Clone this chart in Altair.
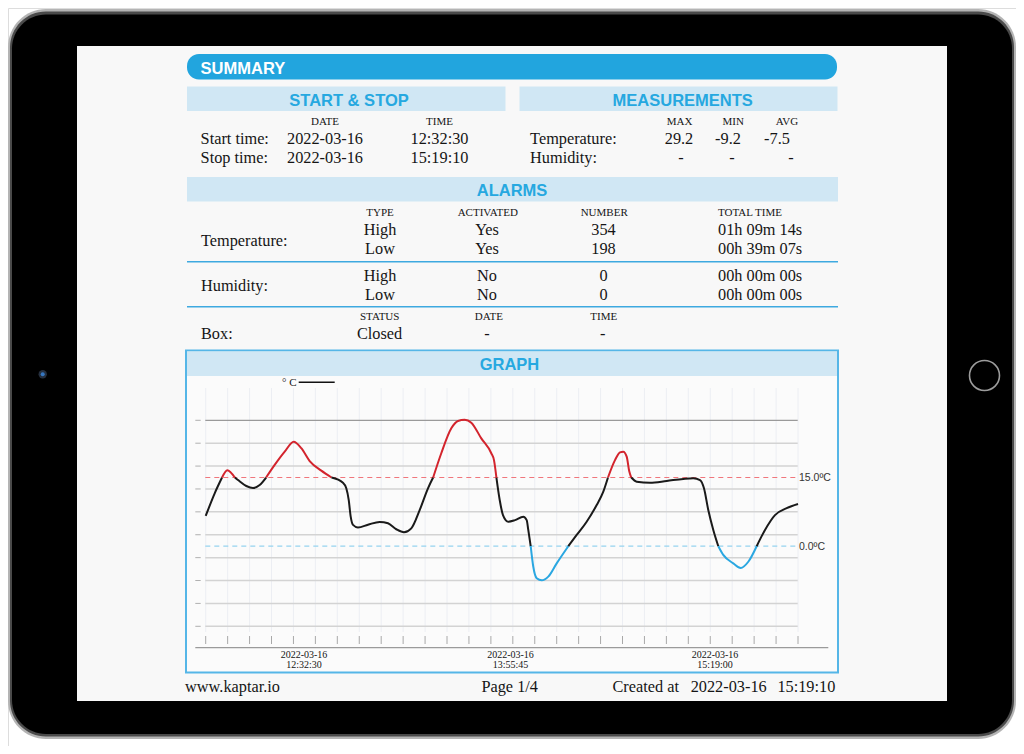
import altair as alt
import pandas as pd

# ---------------- report values ----------------
start_stop_cols = ["DATE", "TIME"]
start_stop_rows = ["Start time:", "Stop time:"]
start_stop_dates = ["2022-03-16", "2022-03-16"]
start_stop_times = ["12:32:30", "15:19:10"]

meas_cols = ["MAX", "MIN", "AVG"]
meas_rows = ["Temperature:", "Humidity:"]
temp_meas = ["29.2", "-9.2", "-7.5"]
hum_meas = ["-", "-", "-"]

alarm_cols = ["TYPE", "ACTIVATED", "NUMBER", "TOTAL TIME"]
alarm_groups = ["Temperature:", "Humidity:"]
alarm_types = ["High", "Low"]
temp_alarm_activated = ["Yes", "Yes"]
temp_alarm_number = ["354", "198"]
temp_alarm_time = ["01h 09m 14s", "00h 39m 07s"]
hum_alarm_activated = ["No", "No"]
hum_alarm_number = ["0", "0"]
hum_alarm_time = ["00h 00m 00s", "00h 00m 00s"]

box_cols = ["STATUS", "DATE", "TIME"]
box_label = "Box:"
box_values = ["Closed", "-", "-"]

footer_site = "www.kaptar.io"
footer_page = "Page 1/4"
footer_created = ["Created at", "2022-03-16", "15:19:10"]

# ---------------- graph values ----------------
# minutes elapsed since 2022-03-16 12:32:30 (log runs 10000 s)
elapsed_min = [0.0, 2.53, 4.6, 6.08, 8.2, 9.09, 11.42, 13.31, 15.19, 17.0,
               19.41, 22.23, 24.76, 26.9, 29.26, 32.53, 35.4, 38.63, 39.56, 40.24,
               40.8, 41.45, 42.85, 45.67, 48.96, 51.29, 53.63, 55.8, 57.85, 60.21,
               62.55, 64.0, 66.29, 69.11, 70.99, 72.88, 74.73, 77.55, 80.36, 81.12,
               81.8, 82.73, 83.65, 85.15, 87.03, 89.37, 90.32, 90.77, 91.45, 92.18,
               93.14, 94.54, 96.4, 98.76, 102.03, 104.39, 107.2, 110.02, 111.88, 113.2,
               115.17, 116.58, 117.5, 118.46, 119.2, 119.75, 121.28, 125.02, 129.72, 134.39,
               137.2, 139.09, 140.21, 141.42, 142.83, 144.24, 145.64, 148.46, 150.54, 152.68,
               155.04, 157.38, 160.19, 163.48, 166.67]
temp_c = [6.6, 11.55, 15.0, 16.6, 15.0, 14.45, 13.15, 12.7, 13.37, 15.0,
          17.75, 20.65, 22.8, 21.4, 18.6, 16.5, 15.0, 13.85, 12.65, 10.1,
          6.45, 4.65, 4.1, 4.7, 5.3, 5.0, 3.7, 3.05, 3.9, 7.9,
          12.65, 15.0, 20.3, 25.75, 27.35, 27.6, 26.98, 23.55, 20.3, 18.8,
          15.0, 10.1, 6.8, 5.35, 5.7, 6.45, 5.7, 3.55, 0.0, -4.5,
          -7.0, -7.45, -6.65, -3.75, 0.0, 2.45, 5.35, 9.0, 11.9, 15.0,
          18.8, 20.5, 20.65, 19.55, 16.3, 15.0, 14.1, 13.85, 14.25, 14.7,
          14.85, 14.45, 12.65, 7.9, 3.55, 0.0, -1.9, -3.75, -4.75, -3.4,
          0.0, 3.55, 6.8, 8.3, 9.2]
high_limit = 15.0
low_limit = 0.0
threshold_values = [high_limit, low_limit]
threshold_labels = ["15.0ºC", "0.0ºC"]
grid_temps = [27.5, 22.5, 17.5, 12.5, 7.5, 2.5, -2.5, -7.5, -12.5, -17.5]
x_label_dates = ["2022-03-16", "2022-03-16", "2022-03-16"]
x_label_times = ["12:32:30", "13:55:45", "15:19:00"]
legend_label = "° C"
span_min = 10000 / 60
n_ticks = 28

# ---------------- styles ----------------
SERIF = "Liberation Serif"
SANS = "Liberation Sans"
BLUE = "#22a5de"
HEAD_BLUE = "#26a8e0"
BAND = "#d0e7f4"
INK = "#151515"
OFF = 8  # page margin -> view coordinates


def pos(v):
    return v - OFF


def text_layer(items, font, size, color=INK, weight="normal", align="left", baseline="alphabetic"):
    df = pd.DataFrame(items, columns=["x", "y", "t"])
    df["x"] = df["x"] - OFF
    df["y"] = df["y"] - OFF
    return alt.Chart(df).mark_text(
        font=font, fontSize=size, fontWeight=weight, color=color,
        align=align, baseline=baseline
    ).encode(
        x=alt.X("x:Q", scale=None, axis=None),
        y=alt.Y("y:Q", scale=None, axis=None),
        text="t:N",
    )


def rect_layer(boxes, fill, radius=0, stroke=None, sw=0):
    df = pd.DataFrame(boxes, columns=["x", "x2", "y", "y2"]) - OFF
    kw = dict(fill=fill, cornerRadius=radius)
    if stroke:
        kw.update(stroke=stroke, strokeWidth=sw)
    return alt.Chart(df).mark_rect(**kw).encode(
        x=alt.X("x:Q", scale=None, axis=None), x2="x2:Q",
        y=alt.Y("y:Q", scale=None, axis=None), y2="y2:Q",
    )


def rule_layer(lines, color, width):
    df = pd.DataFrame(lines, columns=["x", "x2", "y", "y2"]) - OFF
    return alt.Chart(df).mark_rule(color=color, strokeWidth=width).encode(
        x=alt.X("x:Q", scale=None, axis=None), x2="x2:Q",
        y=alt.Y("y:Q", scale=None, axis=None), y2="y2:Q",
    )


one = pd.DataFrame({"k": [0]})
layers = []

# ---------------- device frame ----------------
layers.append(rect_layer([(8, 1016, 9, 739)], "#b4b4b4", radius=38))
layers.append(rect_layer([(10, 1014, 11.5, 736.5)], "#4a4a4a", radius=36))
layers.append(rect_layer([(12, 1012, 14.5, 734)], "#000000", radius=34))
layers.append(rect_layer([(77, 947, 46, 701)], "#f8f8f8"))
layers.append(alt.Chart(one).mark_circle(size=70, color="#26303f", opacity=1).encode(
    x=alt.value(pos(42.7)), y=alt.value(pos(374.3))))
layers.append(alt.Chart(one).mark_circle(size=16, color="#3576c0", opacity=1).encode(
    x=alt.value(pos(42.7)), y=alt.value(pos(374.3))))
layers.append(alt.Chart(one).mark_point(shape="circle", size=900, filled=False,
                                        color="#9c9c9c", strokeWidth=1.6, opacity=1).encode(
    x=alt.value(pos(984.5)), y=alt.value(pos(375.5))))

# ---------------- headers ----------------
layers.append(rect_layer([(187, 837, 54, 79.5)], BLUE, radius=12))
layers.append(rect_layer([(187, 505.5, 86.5, 111), (519.5, 837.5, 86.5, 111),
                          (187, 838, 177, 201.5)], BAND))
layers.append(rect_layer([(186, 838, 350.5, 672.5)], "#fbfbfb", stroke="#55b6e7", sw=2))
layers.append(rect_layer([(187, 837, 351.5, 376)], BAND))
layers.append(rule_layer([(187, 838, 261.7, 261.7), (187, 838, 306.7, 306.7)], "#3ea9e0", 1.5))

layers.append(text_layer([(200.6, 73.5, "SUMMARY")], SANS, 16.5, color="white", weight="bold"))
layers.append(text_layer([(349, 105.7, "START & STOP"), (682.7, 105.7, "MEASUREMENTS"),
                          (512, 196, "ALARMS"), (509.5, 370.3, "GRAPH")],
                         SANS, 16.5, color=HEAD_BLUE, weight="bold", align="center"))

# ---------------- start & stop ----------------
ss_col_x = [325, 439.5]
row_base = [144.3, 163.3]
small = [(ss_col_x[i], 125, c) for i, c in enumerate(start_stop_cols)]
small += [(x, 125, c) for x, c in zip([679.6, 733.2, 787], meas_cols)]
small += [(x, 215.7, c) for x, c in zip([380, 487.8, 604.2], alarm_cols[:3])]
small += [(x, 320, c) for x, c in zip([379.7, 488.9, 603.8], box_cols)]
layers.append(text_layer(small, SERIF, 11, align="center"))
layers.append(text_layer([(718, 215.7, alarm_cols[3])], SERIF, 11))

left_items = [(200.6, row_base[i], r) for i, r in enumerate(start_stop_rows)]
left_items += [(530.1, row_base[i], r) for i, r in enumerate(meas_rows)]
left_items += [(201, 246, alarm_groups[0]), (201, 290.5, alarm_groups[1]), (201, 339, box_label)]
left_items += [(718, 235, temp_alarm_time[0]), (718, 254, temp_alarm_time[1]),
               (718, 280.7, hum_alarm_time[0]), (718, 299.7, hum_alarm_time[1])]
layers.append(text_layer(left_items, SERIF, 16.3))

center_items = []
for i in range(2):
    center_items.append((ss_col_x[0], row_base[i], start_stop_dates[i]))
    center_items.append((ss_col_x[1], row_base[i], start_stop_times[i]))
for x, v in zip([679, 728, 777], temp_meas):
    center_items.append((x, row_base[0], v))
for x, v in zip([681, 732, 791], hum_meas):
    center_items.append((x, row_base[1], v))
alarm_x = [380, 487, 603.5]
for yb, (t, a, n) in zip([235, 254], zip(alarm_types, temp_alarm_activated, temp_alarm_number)):
    center_items += [(alarm_x[0], yb, t), (alarm_x[1], yb, a), (alarm_x[2], yb, n)]
for yb, (t, a, n) in zip([280.7, 299.7], zip(alarm_types, hum_alarm_activated, hum_alarm_number)):
    center_items += [(alarm_x[0], yb, t), (alarm_x[1], yb, a), (alarm_x[2], yb, n)]
for x, v in zip([379.5, 487, 602.7], box_values):
    center_items.append((x, 339, v))
layers.append(text_layer(center_items, SERIF, 16.3, align="center"))

# ---------------- footer ----------------
layers.append(text_layer([(185.1, 691.5, footer_site), (612.5, 691.5, footer_created[0]),
                          (690.7, 691.5, footer_created[1]), (777.4, 691.5, footer_created[2])],
                         SERIF, 16.3))
layers.append(text_layer([(509.7, 691.5, footer_page)], SERIF, 16.3, align="center"))

# ---------------- graph ----------------
xs = alt.Scale(domain=[0, span_min], range=[pos(205.7), pos(798)], nice=False, zero=False)
ys = alt.Scale(domain=[-17.5, 27.5], range=[pos(626.3), pos(420.3)], nice=False, zero=False)

tick_df = pd.DataFrame({"m": [span_min * i / (n_ticks - 1) for i in range(n_ticks)]})
layers.append(alt.Chart(tick_df).mark_rule(color="#eceef3", strokeWidth=1).encode(
    x=alt.X("m:Q", scale=xs, axis=None), y=alt.value(pos(388)), y2=alt.value(pos(632))))
layers.append(alt.Chart(tick_df).mark_rule(color="#a8a8a8", strokeWidth=1).encode(
    x=alt.X("m:Q", scale=xs, axis=None), y=alt.value(pos(636)), y2=alt.value(pos(644))))

grid_df = pd.DataFrame({"t": grid_temps})
layers.append(alt.Chart(grid_df.iloc[1:]).mark_rule(color="#d3d3d3", strokeWidth=1.5).encode(
    y=alt.Y("t:Q", scale=ys, axis=None), x=alt.value(pos(205.3)), x2=alt.value(pos(797.7))))
layers.append(alt.Chart(grid_df.iloc[:1]).mark_rule(color="#9a9a9a", strokeWidth=1.2).encode(
    y=alt.Y("t:Q", scale=ys, axis=None), x=alt.value(pos(205.3)), x2=alt.value(pos(797.7))))
layers.append(alt.Chart(grid_df).mark_rule(color="#b0b0b0", strokeWidth=1).encode(
    y=alt.Y("t:Q", scale=ys, axis=None), x=alt.value(pos(195.3)), x2=alt.value(pos(200.7))))
layers.append(alt.Chart(one).mark_rule(color="#9a9a9a", strokeWidth=1.3).encode(
    x=alt.value(pos(195.3)), x2=alt.value(pos(828.3)), y=alt.value(pos(647.7))))

thr_df = pd.DataFrame({"t": threshold_values, "label": threshold_labels})
for idx, col in [(0, "#f0767c"), (1, "#96d3f0")]:
    layers.append(alt.Chart(thr_df.iloc[[idx]]).mark_rule(
        strokeWidth=1.2, strokeDash=[5, 4]).encode(
        y=alt.Y("t:Q", scale=ys, axis=None), x=alt.value(pos(205.3)), x2=alt.value(pos(797.7)),
        color=alt.value(col), stroke=alt.value(col)))
layers.append(alt.Chart(thr_df).mark_text(font=SANS, fontSize=10.5, color="#333", align="left",
                                          baseline="middle", dy=0.5).encode(
    y=alt.Y("t:Q", scale=ys, axis=None), x=alt.value(pos(799)), text="label:N"))


def band(a, b):
    if min(a, b) >= high_limit and max(a, b) > high_limit:
        return "high"
    if max(a, b) <= low_limit and min(a, b) < low_limit:
        return "low"
    return "normal"


rows, seg, prev = [], 0, None
for i in range(len(elapsed_min) - 1):
    b = band(temp_c[i], temp_c[i + 1])
    if b != prev:
        seg += 1
        rows.append(dict(m=elapsed_min[i], t=temp_c[i], seg=seg, band=b, o=i))
        prev = b
    rows.append(dict(m=elapsed_min[i + 1], t=temp_c[i + 1], seg=seg, band=b, o=i + 1))
curve_df = pd.DataFrame(rows)

layers.append(alt.Chart(curve_df).mark_line(interpolate="monotone", strokeWidth=2).encode(
    x=alt.X("m:Q", scale=xs, axis=None),
    y=alt.Y("t:Q", scale=ys, axis=None),
    detail="seg:N",
    order="o:Q",
    color=alt.Color("band:N", scale=alt.Scale(domain=["high", "normal", "low"],
                                              range=["#d3242d", "#1a1a1a", "#2aa7e1"]), legend=None),
))

# legend & x labels
layers.append(alt.Chart(one).mark_rule(color="#111", strokeWidth=1.6).encode(
    x=alt.value(pos(298.7)), x2=alt.value(pos(334.7)), y=alt.value(pos(382.3))))
layers.append(text_layer([(296.5, 386, legend_label)], SERIF, 11, align="right"))
lab_x = [304, 510.5, 715]
xl = [(x, 657.8, d) for x, d in zip(lab_x, x_label_dates)]
xl += [(x, 667.6, t) for x, t in zip(lab_x, x_label_times)]
layers.append(text_layer(xl, SERIF, 10, align="center"))

chart = alt.layer(*layers).resolve_scale(
    x="independent", y="independent", color="independent"
).properties(
    width=1008, height=738, padding=0, autosize=alt.AutoSizeParams(type="none")
).configure_view(stroke=None).configure(background="white")

chart.save("out.html", embed_options={"renderer": "svg", "actions": False})
